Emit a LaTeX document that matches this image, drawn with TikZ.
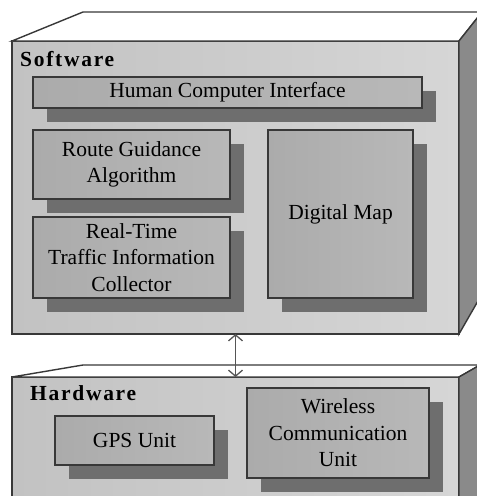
\documentclass[tikz,border=0pt]{standalone}
\usepackage{fontspec}
\setmainfont{Liberation Serif}
\usetikzlibrary{shadows,arrows.meta}
\definecolor{edgegray}{HTML}{383838}
\definecolor{faceL}{HTML}{C2C2C2}
\definecolor{faceR}{HTML}{D6D6D6}
\definecolor{sidegray}{HTML}{8A8A8A}
\definecolor{boxL}{HTML}{ABABAB}
\definecolor{boxR}{HTML}{B8B8B8}
\definecolor{shadowgray}{HTML}{6E6E6E}
\definecolor{arrowgray}{HTML}{555555}
\begin{document}
\begin{tikzpicture}[x=1pt,y=-1pt,
  every node/.style={font=\fontsize{21.5}{26.5}\selectfont},
  face/.style={draw=edgegray,line width=1.4pt,left color=faceL,right color=faceR,
    inner sep=0pt,outer sep=0pt},
  topface/.style={draw=edgegray,line width=1.4pt,fill=white},
  sideface/.style={draw=edgegray,line width=1.4pt,fill=sidegray},
  unit/.style={draw=edgegray,line width=1.3pt,left color=boxL,right color=boxR,
    align=center,inner sep=0pt,
    drop shadow={shadow xshift=14pt,shadow yshift=-14pt,fill=shadowgray,opacity=1}},
  layerlabel/.style={font=\fontsize{21.5}{26.5}\selectfont\bfseries\addfontfeature{LetterSpace=8},
    inner sep=0pt,anchor=base west},
  link/.style={draw=arrowgray,line width=1.3pt,{Straight Barb[length=6pt,width=14pt]}-{Straight Barb[length=6pt,width=14pt]}}
]
\useasboundingbox (0,0) rectangle (477,496);
\clip (0,0) rectangle (477,496);

% software layer block
\node[face,minimum width=447pt,minimum height=293pt] (sw) at (235.5,187.5) {};
\draw[topface] (sw.north west) -- (83,12) -- (482,12) -- (sw.north east) -- cycle;
\draw[sideface] (sw.north east) -- (482,12) -- (482,294) -- (sw.south east) -- cycle;
\node[layerlabel] (swlabel) at (20,66) {Software};

% hardware layer block
\node[face,minimum width=447pt,minimum height=140pt] (hw) at (235.5,447) {};
\draw[topface] (hw.north west) -- (83,365) -- (480,365) -- (hw.north east) -- cycle;
\draw[sideface] (hw.north east) -- (480,365) -- (480,520) -- (hw.south east) -- cycle;
\node[layerlabel] (hwlabel) at (30,400) {Hardware};

% software components
\node[unit,minimum width=389pt,minimum height=31pt] (hci) at (227.5,92.5) {Human Computer Interface};
\node[unit,minimum width=197pt,minimum height=69pt] (route) at (131.5,164.5) {Route Guidance\\Algorithm};
\node[unit,minimum width=197pt,minimum height=81pt] (rtti) at (131.5,257.5) {Real-Time\\Traffic Information\\Collector};
\node[unit,minimum width=145pt,minimum height=168pt] (map) at (340.5,214) {Digital Map};

% hardware components
\node[unit,minimum width=159pt,minimum height=49pt] (gps) at (134.5,440.5) {GPS Unit};
\node[unit,minimum width=182pt,minimum height=90pt] (wcu) at (338,433) {Wireless\\Communication\\Unit};

% link between the layers
\draw[link] (sw.south) -- (hw.north);
\end{tikzpicture}
\end{document}
